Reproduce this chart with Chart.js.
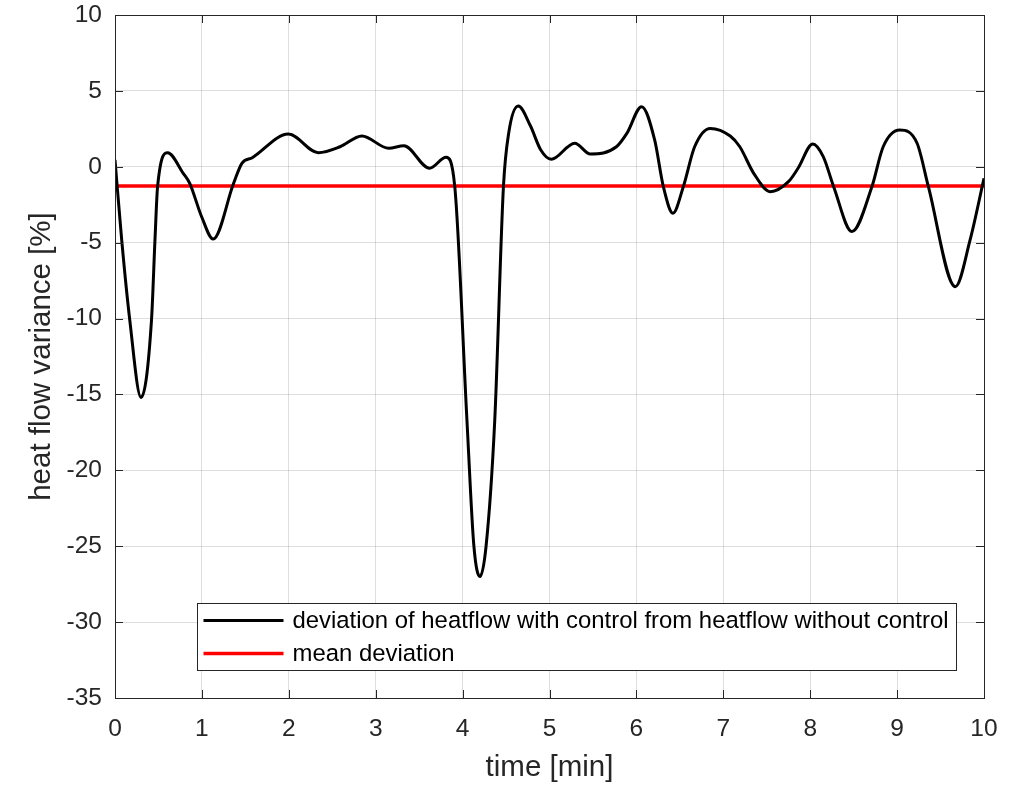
<!DOCTYPE html>
<html>
<head>
<meta charset="utf-8">
<script src="https://cdn.jsdelivr.net/npm/chart.js@4/dist/chart.umd.min.js"></script>
<style>
    html, body { margin: 0; padding: 0; background: #fff; }
    #wrap { width: 1022px; height: 785px; }
</style>
</head>
<body>
<div id="wrap"><canvas id="heatChart" width="1022" height="785"></canvas></div>
<script>
// time [min] and measured deviation [%]
const times = [0, 0.077, 0.17, 0.30, 0.42, 0.46, 0.49, 0.606, 0.785, 0.86, 0.997, 1.13, 1.365, 1.46,
    1.58, 1.995, 2.34, 2.59, 2.84, 3.15, 3.325, 3.62, 3.81, 3.91, 4.05, 4.13, 4.2, 4.27, 4.37, 4.47, 4.53,
    4.64, 4.78, 4.9, 5.02, 5.29, 5.47, 5.77, 5.89, 6.06, 6.21, 6.31, 6.42, 6.54, 6.67, 6.85, 7.08, 7.19,
    7.35, 7.54, 7.75, 7.86, 8.03, 8.15, 8.27, 8.48, 8.71, 8.84, 9.03, 9.23, 9.36, 9.67, 9.84, 10];
const variance = [0.45, -4.82, -10.1, -15.2, -10.1, -4.82, -1.31, 0.93, -0.43, -1.09, -3.29, -4.76, -1.09, 0.23,
    0.6, 2.16, 0.93, 1.32, 2.03, 1.22, 1.39, -0.1, 0.63, -1.31, -16.7, -25.0, -27.0, -25.0, -16.7, -1.31, 2.2,
    4.0, 2.7, 1.1, 0.49, 1.55, 0.84, 1.32, 2.2, 3.96, 1.77, -1.31, -3.06, -1.31, 1.32, 2.53, 2.03, 1.32,
    -0.43, -1.64, -0.98, -0.1, 1.5, 0.67, -1.31, -4.27, -1.31, 1.32, 2.42, 1.55, -1.31, -7.9, -4.82, -0.76];
const meanDeviation = -1.26;

const xTicks = [0, 1, 2, 3, 4, 5, 6, 7, 8, 9, 10];
const yTicks = [-35, -30, -25, -20, -15, -10, -5, 0, 5, 10];

const seriesLabels = [
    "deviation of heatflow with control from heatflow without control",
    "mean deviation"
];

const axisColor = "#262626";
const fontFamily = "'Liberation Sans', Arial, Helvetica, sans-serif";

// box around the axes plus inward ticks on all four sides
const frame = {
    id: "frame",
    afterDatasetsDraw(chart) {
        const { ctx, chartArea: a, scales } = chart;
        const len = 8;
        ctx.save();
        ctx.strokeStyle = axisColor;
        ctx.lineWidth = 1;
        ctx.beginPath();
        xTicks.forEach(v => {
            const px = Math.round(scales.x.getPixelForValue(v)) + 0.5;
            ctx.moveTo(px, a.bottom); ctx.lineTo(px, a.bottom - len);
            ctx.moveTo(px, a.top); ctx.lineTo(px, a.top + len);
        });
        yTicks.forEach(v => {
            const py = Math.round(scales.y.getPixelForValue(v)) + 0.5;
            ctx.moveTo(a.left, py); ctx.lineTo(a.left + len, py);
            ctx.moveTo(a.right, py); ctx.lineTo(a.right - len, py);
        });
        ctx.stroke();
        ctx.strokeRect(Math.round(a.left) + 0.5, Math.round(a.top) + 0.5,
            Math.round(a.right - a.left), Math.round(a.bottom - a.top));
        ctx.restore();
    }
};

// legend box sitting inside the lower part of the axes
const boxLegend = {
    id: "boxLegend",
    afterDraw(chart) {
        const { ctx, chartArea: a } = chart;
        const sets = chart.data.datasets;
        ctx.save();
        ctx.font = "23.9px " + fontFamily;
        const textW = Math.max(...sets.map(d => ctx.measureText(d.label).width));
        const rowH = 33;
        const w = 6 + 80 + 9 + textW + 8;
        const h = rowH * sets.length + 1;
        const left = Math.round(a.left + 82) + 0.5;
        const top = Math.round(a.bottom - 28 - h) + 0.5;
        ctx.fillStyle = "#fff";
        ctx.fillRect(left, top, w, h);
        ctx.strokeStyle = axisColor;
        ctx.lineWidth = 1;
        ctx.strokeRect(left, top, w, h);
        sets.forEach((d, i) => {
            const cy = top + 17 + i * rowH;
            ctx.strokeStyle = d.borderColor;
            ctx.lineWidth = d.borderWidth;
            ctx.beginPath();
            ctx.moveTo(left + 6, cy);
            ctx.lineTo(left + 86, cy);
            ctx.stroke();
            ctx.fillStyle = "#000";
            ctx.textBaseline = "middle";
            ctx.fillText(d.label, left + 95, cy + 1);
        });
        ctx.restore();
    }
};

// keep the plot box fixed regardless of label overhang
function noOverhang(s) {
    s.paddingTop = 0;
    s.paddingBottom = 0;
    s.paddingLeft = 0;
    s.paddingRight = 0;
}

new Chart(document.getElementById("heatChart"), {
    type: "line",
    data: {
        datasets: [{
            label: seriesLabels[0],
            data: times.map((t, i) => ({ x: t, y: variance[i] })),
            borderColor: "#000000",
            borderWidth: 3,
            pointRadius: 0,
            cubicInterpolationMode: "monotone",
            fill: false
        }, {
            label: seriesLabels[1],
            data: [{ x: xTicks[0], y: meanDeviation }, { x: xTicks[xTicks.length - 1], y: meanDeviation }],
            borderColor: "#ff0000",
            borderWidth: 3.5,
            pointRadius: 0,
            fill: false
        }]
    },
    options: {
        responsive: false,
        animation: false,
        layout: { padding: { top: 15, right: 38, left: 0, bottom: 0 } },
        plugins: {
            legend: { display: false },
            tooltip: { enabled: false }
        },
        scales: {
            x: {
                type: "linear",
                min: 0,
                max: 10,
                afterBuildTicks: s => { s.ticks = xTicks.map(v => ({ value: v })); },
                afterFit: s => { s.height = 87; noOverhang(s); },
                grid: { color: "rgba(0,0,0,0.13)", drawTicks: false },
                border: { display: false },
                ticks: { color: axisColor, padding: 17, maxRotation: 0, font: { family: fontFamily, size: 24.5 } },
                title: {
                    display: true,
                    text: "time [min]",
                    color: axisColor,
                    padding: { top: 0, bottom: -1 },
                    font: { family: fontFamily, size: 29.5 }
                }
            },
            y: {
                type: "linear",
                min: -35,
                max: 10,
                afterBuildTicks: s => { s.ticks = yTicks.map(v => ({ value: v })); },
                afterFit: s => { s.width = 115; noOverhang(s); },
                grid: { color: "rgba(0,0,0,0.13)", drawTicks: false },
                border: { display: false },
                ticks: { color: axisColor, padding: 13, font: { family: fontFamily, size: 24.5 } },
                title: {
                    display: true,
                    text: "heat flow variance [%]",
                    color: axisColor,
                    padding: { top: 24, bottom: 0 },
                    font: { family: fontFamily, size: 29.5 }
                }
            }
        }
    },
    plugins: [frame, boxLegend]
});
</script>
</body>
</html>
